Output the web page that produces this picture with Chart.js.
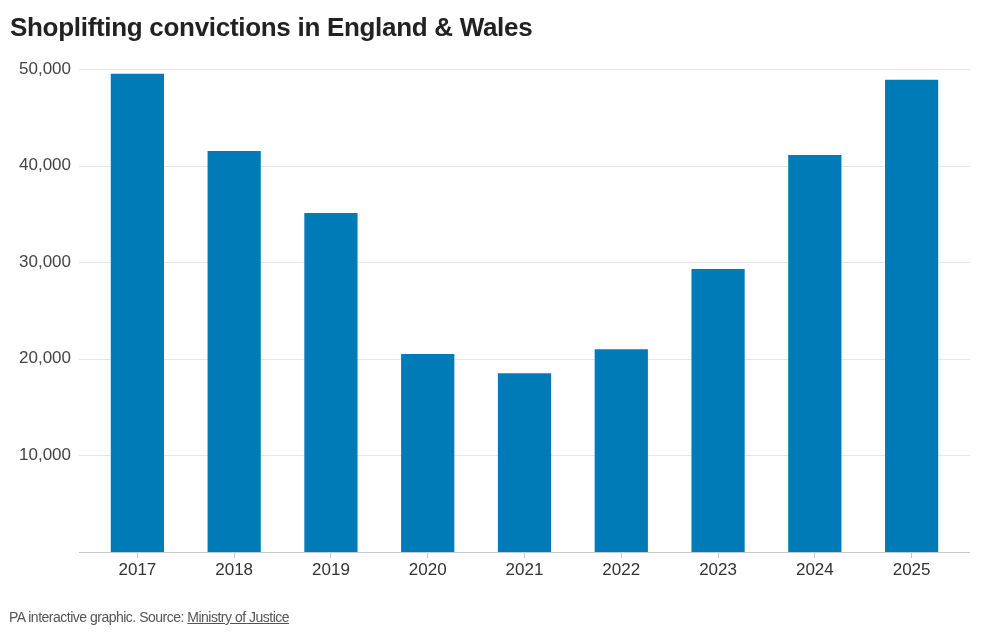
<!DOCTYPE html>
<html>
<head>
<meta charset="utf-8">
<script src="https://cdn.jsdelivr.net/npm/chart.js@4"></script>
<style>
  html, body { margin: 0; padding: 0; background: #fff; }
  #wrap { position: relative; width: 1000px; height: 637px; overflow: hidden; }
  #title {
    position: absolute; left: 10px; top: 14px;
    font: bold 26px/26px 'Liberation Sans', Arial, sans-serif;
    letter-spacing: -0.3px; color: #222;
  }
  #footer {
    position: absolute; left: 9px; top: 608px;
    font: 14px/18px 'Liberation Sans', Arial, sans-serif;
    letter-spacing: -0.5px; color: #555;
  }
  #footer span { text-decoration: underline; }
  canvas { position: absolute; left: 0; top: 0; }
</style>
</head>
<body>
<div id="wrap">
  <canvas id="chart" width="1000" height="637"></canvas>
  <div id="title">Shoplifting convictions in England &amp; Wales</div>
  <div id="footer">PA interactive graphic. Source: <span>Ministry of Justice</span></div>
</div>
<script>
const years = ['2017', '2018', '2019', '2020', '2021', '2022', '2023', '2024', '2025'];
const convictions = [49500, 41500, 35100, 20500, 18500, 21000, 29300, 41100, 48900];
const yTicks = [10000, 20000, 30000, 40000, 50000];

const FONT = "'Liberation Sans', Arial, sans-serif";

// horizontal gridlines run a bit past the plot area on both sides
const wideGrid = {
  id: 'wideGrid',
  beforeDatasetsDraw(chart) {
    const { ctx, chartArea, scales } = chart;
    const left = chartArea.left - 10, right = chartArea.right + 10;
    ctx.save();
    ctx.lineWidth = 1;
    ctx.strokeStyle = '#e6e6e6';
    yTicks.forEach(v => {
      const y = Math.round(scales.y.getPixelForValue(v)) + 0.5;
      ctx.beginPath(); ctx.moveTo(left, y); ctx.lineTo(right, y); ctx.stroke();
    });
    ctx.strokeStyle = '#c8c8c8';
    const y0 = Math.round(scales.y.getPixelForValue(0)) + 0.5;
    ctx.beginPath(); ctx.moveTo(left, y0); ctx.lineTo(right, y0); ctx.stroke();
    ctx.restore();
  }
};

new Chart(document.getElementById('chart'), {
  type: 'bar',
  data: {
    labels: years,
    datasets: [{
      data: convictions,
      backgroundColor: '#007bb7',
      borderWidth: 0,
      barPercentage: 0.55,
      categoryPercentage: 1
    }]
  },
  options: {
    responsive: false,
    animation: false,
    layout: { padding: { top: 69, right: 40, bottom: 0, left: 0 } },
    plugins: { legend: { display: false }, tooltip: { enabled: false } },
    scales: {
      x: {
        border: { display: false },
        grid: { offset: false, drawOnChartArea: false, color: '#c8c8c8', tickLength: 6 },
        ticks: { color: '#333', padding: 2, font: { family: FONT, size: 17 } },
        afterFit: s => { s.height = 85; }
      },
      y: {
        min: 0, max: 50000,
        border: { display: false },
        grid: { display: false, drawTicks: false },
        afterBuildTicks: s => { s.ticks = yTicks.map(v => ({ value: v })); },
        ticks: {
          color: '#444', padding: 18,
          font: { family: FONT, size: 17 },
          callback: v => v.toLocaleString('en-GB')
        },
        afterFit: s => { s.width = 89; }
      }
    }
  },
  plugins: [wideGrid]
});
</script>
</body>
</html>
